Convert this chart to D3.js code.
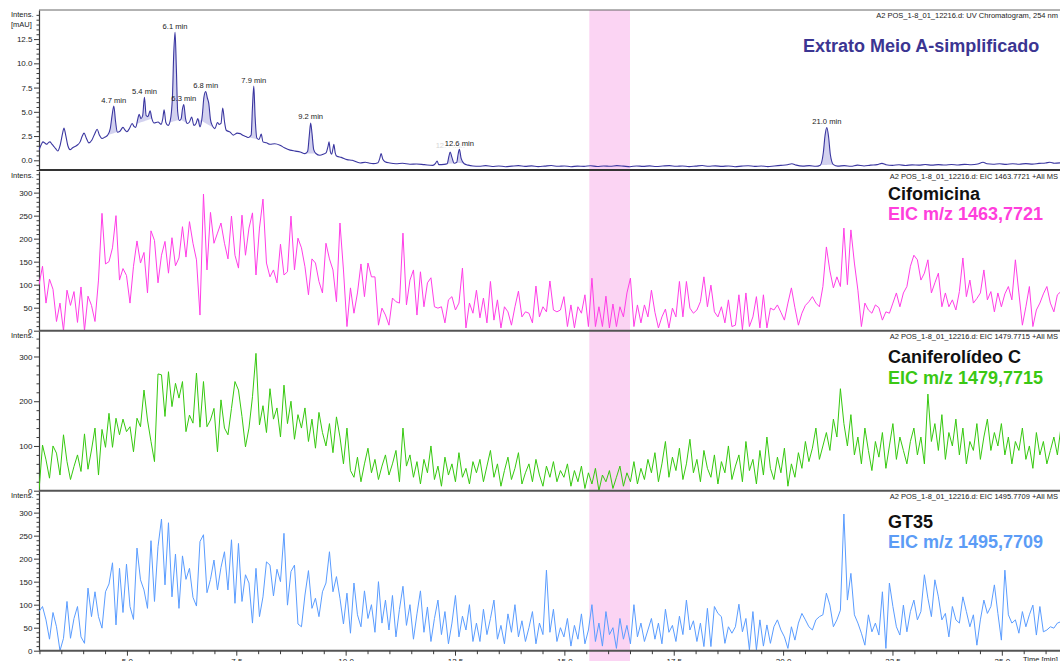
<!DOCTYPE html>
<html>
<head>
<meta charset="utf-8">
<script src="https://cdn.jsdelivr.net/npm/d3@7"></script>
<style>
  body { margin: 0; background: #fff; }
  svg { display: block; }
  text { font-family: "Liberation Sans", Arial, sans-serif; }
</style>
</head>
<body>
<svg id="chart" width="1060" height="661"></svg>
<script>
// ---------------------------------------------------------------
// Run information
// ---------------------------------------------------------------
const runName = "A2 POS_1-8_01_12216.d";
const timeStart = 2.99;          // min, left edge of the time axis
const timeEnd = 26.33;           // min, right edge of the time axis
const highlightWindow = [15.57, 16.5];   // min, shaded retention window

// ---------------------------------------------------------------
// UV chromatogram, 254 nm (time in min, signal in mAU)
// ---------------------------------------------------------------
const uvTime = [
  2.99, 3.04, 3.08, 3.13, 3.17, 3.21, 3.24, 3.28, 3.31, 3.37, 3.42, 3.47, 3.53, 3.56, 3.60, 3.65, 3.70, 3.76, 3.86, 3.93,
  3.98, 4.02, 4.07, 4.13, 4.20, 4.27, 4.32, 4.37, 4.43, 4.50, 4.56, 4.62, 4.66, 4.70, 4.74, 4.78, 4.84, 4.91, 4.96, 5.00,
  5.06, 5.12, 5.16, 5.20, 5.25, 5.28, 5.32, 5.36, 5.40, 5.44, 5.48, 5.53, 5.57, 5.62, 5.71, 5.78, 5.82, 5.85, 5.89, 5.94,
  5.99, 6.04, 6.07, 6.10, 6.13, 6.16, 6.20, 6.24, 6.27, 6.30, 6.34, 6.38, 6.43, 6.48, 6.53, 6.58, 6.62, 6.67, 6.72, 6.76,
  6.80, 6.84, 6.87, 6.91, 6.95, 7.01, 7.07, 7.11, 7.15, 7.19, 7.23, 7.27, 7.36, 7.43, 7.52, 7.59, 7.66, 7.72, 7.78, 7.84,
  7.87, 7.90, 7.93, 7.97, 8.02, 8.07, 8.11, 8.19, 8.27, 8.38, 8.50, 8.60, 8.73, 8.85, 8.96, 9.07, 9.13, 9.17, 9.20, 9.23,
  9.27, 9.32, 9.41, 9.50, 9.55, 9.60, 9.62, 9.65, 9.68, 9.71, 9.73, 9.76, 9.80, 9.90, 10.03, 10.15, 10.33, 10.45, 10.55, 10.63,
  10.74, 10.78, 10.81, 10.85, 10.90, 11.01, 11.15, 11.30, 11.47, 11.62, 11.80, 11.99, 12.05, 12.09, 12.13, 12.25, 12.32, 12.36, 12.39, 12.43,
  12.48, 12.54, 12.57, 12.60, 12.64, 12.71, 12.80, 12.91, 13.05, 13.20, 13.35, 13.50, 13.65, 13.80, 13.95, 14.10, 14.25, 14.40, 14.55, 14.70,
  14.85, 15.00, 15.15, 15.30, 15.45, 15.60, 15.75, 15.90, 16.05, 16.20, 16.35, 16.50, 16.65, 16.80, 16.95, 17.10, 17.25, 17.40, 17.55, 17.70,
  17.85, 18.00, 18.15, 18.30, 18.45, 18.60, 18.75, 18.90, 19.05, 19.20, 19.35, 19.50, 19.65, 19.80, 19.95, 20.10, 20.20, 20.30, 20.45, 20.60,
  20.75, 20.85, 20.92, 20.96, 21.00, 21.04, 21.08, 21.15, 21.25, 21.40, 21.55, 21.70, 21.85, 22.00, 22.15, 22.26, 22.35, 22.50, 22.65, 22.80,
  22.95, 23.10, 23.25, 23.40, 23.55, 23.70, 23.85, 24.00, 24.15, 24.30, 24.45, 24.57, 24.66, 24.80, 24.95, 25.10, 25.25, 25.40, 25.55, 25.70,
  25.85, 26.00, 26.10, 26.20, 26.33
];
const uvSignal = [
  1.05, 1.6, 1.9, 1.75, 1.65, 1.85, 1.9, 1.7, 1.55, 1.2, 0.96, 1.5, 2.8, 3.33, 2.6, 1.5, 1.1, 1.3, 1.55, 1.9,
  2.5, 2.8, 2.3, 1.8, 2.1, 2.8, 3.2, 2.6, 2.25, 2.4, 2.6, 3.3, 4.6, 5.6, 4.0, 2.9, 3.0, 3.4, 3.1, 2.95,
  3.3, 3.8, 3.5, 3.4, 4.3, 4.75, 4.3, 4.6, 6.5, 4.6, 4.5, 5.1, 4.3, 3.85, 3.95, 3.7, 4.3, 5.2, 3.9, 3.6,
  4.1, 6.5, 11.0, 13.2, 9.5, 5.0, 4.1, 4.3, 5.3, 5.75, 4.3, 3.8, 3.95, 4.45, 3.6, 3.8, 4.3, 3.45, 4.5, 6.5,
  7.1, 6.4, 5.9, 4.2, 3.6, 3.27, 3.9, 3.7, 3.8, 5.4, 4.0, 3.1, 2.9, 2.6, 2.8, 2.75, 2.55, 2.45, 2.35, 2.6,
  5.5, 7.65, 4.5, 2.3, 2.15, 2.7, 1.9, 1.8, 1.65, 1.7, 1.55, 1.3, 1.05, 0.95, 0.86, 0.69, 0.9, 2.6, 3.85, 2.8,
  1.1, 0.7, 0.52, 0.65, 0.76, 1.5, 1.9, 0.9, 0.62, 1.2, 1.65, 0.8, 0.41, 0.3, 0.07, 0.0, -0.28, -0.2, -0.3, -0.34,
  -0.25, 0.2, 0.69, 0.1, -0.15, -0.28, -0.35, -0.3, -0.4, -0.38, -0.45, -0.52, -0.35, -0.07, -0.45, -0.42, -0.35, 0.4, 0.86, 0.3,
  -0.3, -0.2, 0.6, 1.14, 0.2, -0.35, -0.5, -0.59, -0.62, -0.55, -0.64, -0.58, -0.66, -0.6, -0.55, -0.63, -0.57, -0.65, -0.6, -0.54,
  -0.62, -0.58, -0.66, -0.6, -0.63, -0.56, -0.64, -0.58, -0.62, -0.55, -0.6, -0.66, -0.58, -0.63, -0.57, -0.64, -0.59, -0.55, -0.62, -0.58,
  -0.65, -0.6, -0.54, -0.62, -0.57, -0.63, -0.58, -0.66, -0.6, -0.56, -0.63, -0.59, -0.65, -0.58, -0.52, -0.45, -0.35, -0.5, -0.6, -0.55,
  -0.62, -0.5, 0.8, 2.6, 3.37, 2.4, 0.6, -0.45, -0.6, -0.55, -0.62, -0.5, -0.58, -0.5, -0.45, -0.32, -0.45, -0.52, -0.46, -0.53,
  -0.47, -0.5, -0.44, -0.5, -0.45, -0.49, -0.43, -0.48, -0.42, -0.46, -0.38, -0.2, -0.35, -0.4, -0.36, -0.42, -0.35, -0.4, -0.34, -0.39,
  -0.32, -0.28, -0.2, -0.3, -0.27
];

// Integrated UV peaks: apex time, integration limits (min) and label
const uvPeaks = [
  { label: "4.7 min",  apex: 4.70,  from: 4.56,  to: 4.84 },
  { label: "5.4 min",  apex: 5.40,  from: 5.22,  to: 5.57 },
  { label: "6.1 min",  apex: 6.10,  from: 5.97,  to: 6.22 },
  { label: "6.3 min",  apex: 6.30,  from: 6.22,  to: 6.38 },
  { label: "6.8 min",  apex: 6.80,  from: 6.62,  to: 7.01 },
  { label: "7.9 min",  apex: 7.90,  from: 7.78,  to: 8.02 },
  { label: "9.2 min",  apex: 9.20,  from: 9.07,  to: 9.32 },
  { label: "12.4 min", apex: 12.39, from: 12.30, to: 12.48, faded: true },
  { label: "12.6 min", apex: 12.60, from: 12.52, to: 12.71, halo: true },
  { label: "21.0 min", apex: 21.00, from: 20.85, to: 21.15 }
];

// ---------------------------------------------------------------
// Extracted ion chromatograms (intensity per scan)
// ---------------------------------------------------------------
const scanStart = 2.99;      // min, first scan
const scanInterval = 0.08;   // min between scans

// EIC m/z 1463.7721 (Cifomicina)
const eicCifomicina = [
  100, 140, 60, 112, 90, 20, 60, 0, 88, 55, 85, 18, 95, 0, 75, 55, 20, 110, 255, 145, 150, 180, 250, 110, 135,
  120, 60, 140, 195, 147, 170, 82, 217, 196, 104, 164, 194, 125, 202, 141, 158, 226, 160, 237, 190, 154, 34, 297, 132, 257,
  190, 212, 234, 190, 156, 249, 164, 136, 251, 164, 223, 256, 121, 223, 286, 147, 117, 132, 104, 188, 121, 128, 249, 132, 201,
  180, 139, 78, 156, 147, 107, 82, 190, 156, 132, 63, 234, 132, 9, 93, 38, 82, 145, 74, 147, 117, 117, 12, 49, 34,
  12, 71, 63, 60, 212, 56, 110, 132, 34, 128, 52, 104, 115, 52, 49, 52, 17, 67, 74, 45, 60, 136, 6, 60, 38,
  88, 28, 71, 17, 107, 23, 67, 6, 52, 41, 12, 52, 86, 30, 41, 38, 17, 97, 30, 52, 41, 108, 45, 41, 45,
  74, 9, 56, 6, 52, 38, 78, 9, 114, 9, 52, 9, 75, 6, 58, 9, 52, 30, 82, 114, 9, 56, 17, 56, 30,
  88, 40, 6, 30, 47, 6, 49, 30, 107, 30, 107, 49, 38, 45, 63, 117, 52, 99, 41, 30, 52, 17, 67, 9, 12,
  78, 2, 82, 9, 30, 74, 6, 78, 6, 49, 45, 56, 40, 23, 60, 93, 50, 12, 38, 55, 63, 74, 60, 52, 96,
  182, 130, 93, 117, 96, 223, 100, 219, 147, 88, 9, 60, 45, 38, 56, 50, 23, 41, 38, 60, 82, 52, 82, 96, 140,
  164, 154, 110, 125, 154, 82, 104, 125, 52, 82, 52, 67, 45, 85, 158, 74, 110, 60, 70, 82, 132, 67, 85, 41, 82,
  52, 80, 96, 67, 154, 82, 12, 52, 96, 9, 45, 60, 80, 96, 60, 41, 78, 85
];

// EIC m/z 1479.7715 (Caniferolídeo C)
const eicCaniferolideo = [
  0, 102, 69, 28, 100, 84, 35, 125, 65, 25, 54, 80, 43, 127, 48, 91, 140, 35, 137, 97, 173, 97, 162, 125, 160,
  132, 143, 87, 162, 143, 225, 158, 110, 65, 261, 259, 166, 266, 188, 240, 207, 244, 132, 169, 151, 263, 142, 244, 143, 158,
  184, 87, 203, 140, 125, 184, 244, 225, 166, 98, 140, 210, 307, 147, 190, 130, 228, 160, 185, 120, 236, 150, 200, 115, 170,
  140, 185, 110, 160, 95, 175, 130, 100, 150, 85, 165, 120, 60, 140, 45, 30, 75, 20, 60, 95, 40, 70, 25, 55, 80,
  35, 60, 90, 20, 140, 55, 80, 30, 65, 15, 70, 40, 100, 25, 55, 10, 75, 35, 60, 20, 85, 30, 50, 15, 65,
  40, 70, 20, 55, 90, 30, 60, 10, 45, 75, 25, 50, 85, 15, 40, 60, 20, 70, 35, 10, 55, 30, 65, 20, 45,
  30, 60, 10, 45, 20, 55, 5, 40, 15, 50, 0, 35, 20, 45, 5, 30, 55, 10, 40, 20, 65, 15, 50, 25, 70,
  40, 85, 20, 60, 110, 30, 75, 45, 95, 25, 60, 115, 40, 70, 20, 90, 50, 30, 80, 15, 65, 40, 100, 25, 55,
  80, 20, 110, 45, 70, 15, 90, 35, 120, 50, 25, 75, 40, 95, 10, 60, 30, 85, 50, 110, 65, 95, 140, 70, 100,
  130, 90, 160, 120, 228, 150, 100, 170, 80, 120, 60, 140, 90, 45, 110, 75, 130, 50, 100, 150, 70, 120, 90, 60, 110,
  140, 80, 120, 60, 216, 110, 150, 90, 170, 70, 130, 100, 160, 80, 140, 60, 110, 90, 150, 70, 120, 160, 90, 130, 100,
  150, 80, 120, 60, 110, 90, 140, 70, 100, 50, 130, 80, 110, 60, 90, 120, 80, 140
];

// EIC m/z 1495.7709 (GT35)
const eicGT35 = [
  85, 96, 67, 25, 83, 52, 0, 27, 107, 27, 70, 96, 30, 16, 136, 74, 128, 74, 49, 128, 145, 191, 56, 179, 83,
  188, 96, 68, 223, 154, 132, 92, 239, 107, 226, 286, 143, 278, 117, 210, 92, 206, 155, 179, 116, 97, 237, 252, 126, 155,
  197, 132, 181, 215, 132, 241, 103, 233, 107, 165, 147, 60, 179, 74, 117, 193, 186, 119, 177, 150, 255, 99, 172, 186, 58,
  52, 121, 174, 92, 114, 74, 128, 147, 215, 128, 161, 114, 58, 125, 38, 147, 78, 52, 130, 70, 100, 40, 150, 60, 110,
  45, 120, 30, 90, 140, 55, 100, 25, 80, 130, 40, 95, 20, 70, 110, 35, 85, 15, 60, 120, 30, 75, 45, 100, 20,
  60, 20, 90, 35, 70, 110, 25, 55, 15, 80, 40, 100, 30, 65, 20, 50, 85, 15, 60, 35, 175, 40, 90, 20, 50,
  30, 70, 10, 55, 25, 80, 15, 45, 100, 20, 60, 10, 85, 35, 50, 5, 70, 25, 55, 15, 100, 30, 60, 20, 45,
  70, 25, 60, 15, 90, 40, 55, 20, 75, 35, 110, 45, 65, 20, 60, 9, 92, 9, 96, 81, 74, 16, 52, 38, 52,
  101, 41, 70, 2, 85, 2, 67, 10, 56, 16, 52, 67, 45, 30, 5, 52, 23, 60, 81, 67, 52, 45, 67, 74, 78,
  125, 99, 52, 67, 88, 297, 110, 168, 78, 60, 38, 12, 78, 41, 60, 34, 128, 5, 147, 96, 52, 34, 99, 41, 85,
  110, 67, 85, 165, 114, 74, 154, 117, 67, 81, 30, 96, 67, 60, 117, 85, 52, 78, 12, 67, 110, 81, 96, 143, 81,
  23, 175, 78, 60, 67, 38, 85, 52, 78, 99, 34, 96, 41, 45, 52, 49, 60, 63
];

// Axis tick values
const timeTicks = [5.0, 7.5, 10.0, 12.5, 15.0, 17.5, 20.0, 22.5, 25.0];
const uvTicks = [0.0, 2.5, 5.0, 7.5, 10.0, 12.5];
const eicTicks = [0, 50, 100, 150, 200, 250, 300];
const eicTicksWide = [0, 100, 200, 300];

// ---------------------------------------------------------------
// Drawing
// ---------------------------------------------------------------
const svg = d3.select("#chart");
const W = 1060, H = 661;
const plotLeft = 39, plotRight = 1060;
const axisColor = "#3a3a3a";

const x = d3.scaleLinear().domain([timeStart, timeEnd]).range([plotLeft, plotRight]);

const panels = [
  { top: 10, bottom: 170, domain: [-1.0, 15.5], ticks: uvTicks, minorStep: 0.5, fmt: d3.format(".1f"),
    header: `${runName}: UV Chromatogram, 254 nm`, unit: "[mAU]" },
  { top: 171, bottom: 330.7, domain: [0, 347], ticks: eicTicks, minorStep: 10, fmt: d3.format("d"),
    header: `${runName}: EIC 1463.7721 +All MS`, values: eicCifomicina, color: "#ff3ee6",
    name: "Cifomicina", mz: "EIC m/z 1463,7721", textColor: "#ff3fdc", nameY: 199.5, mzY: 219.5 },
  { top: 331, bottom: 490.7, domain: [0, 357], ticks: eicTicksWide, minorStep: 20, fmt: d3.format("d"),
    header: `${runName}: EIC 1479.7715 +All MS`, values: eicCaniferolideo, color: "#36c80f",
    name: "Caniferolídeo C", mz: "EIC m/z 1479,7715", textColor: "#3ac814", nameY: 363, mzY: 384 },
  { top: 491, bottom: 650.7, domain: [0, 347], ticks: eicTicks, minorStep: 10, fmt: d3.format("d"),
    header: `${runName}: EIC 1495.7709 +All MS`, values: eicGT35, color: "#5a9cff",
    name: "GT35", mz: "EIC m/z 1495,7709", textColor: "#5c9cf6", nameY: 528, mzY: 548 }
];

// Shaded retention window across all traces
svg.append("rect")
  .attr("x", x(highlightWindow[0]))
  .attr("y", 10)
  .attr("width", x(highlightWindow[1]) - x(highlightWindow[0]))
  .attr("height", H - 10)
  .attr("fill", "#fbd4f3");

const defs = svg.append("defs");

panels.forEach((p, k) => {
  const y = d3.scaleLinear().domain(p.domain).range([p.bottom, p.top]);
  p.y = y;

  const clipId = `clip-${k}`;
  defs.append("clipPath").attr("id", clipId)
    .append("rect").attr("x", plotLeft).attr("y", p.top)
    .attr("width", plotRight - plotLeft).attr("height", p.bottom - p.top);

  const g = svg.append("g");

  // minor ticks on the intensity axis
  const minor = d3.range(Math.ceil(p.domain[0] / p.minorStep) * p.minorStep, p.domain[1], p.minorStep)
    .filter(v => !p.ticks.some(t => Math.abs(t - v) < 1e-6));
  g.append("g")
    .attr("transform", `translate(${plotLeft},0)`)
    .call(d3.axisLeft(y).tickValues(minor).tickSize(2.5).tickSizeOuter(0).tickFormat(""))
    .call(a => a.select(".domain").remove())
    .call(a => a.selectAll("line").attr("stroke", axisColor));

  // major ticks with labels
  g.append("g")
    .attr("transform", `translate(${plotLeft},0)`)
    .call(d3.axisLeft(y).tickValues(p.ticks).tickSize(5).tickSizeOuter(0).tickPadding(1.5).tickFormat(p.fmt))
    .call(a => a.select(".domain").attr("stroke", axisColor).attr("stroke-width", 1.2))
    .call(a => a.selectAll("line").attr("stroke", axisColor))
    .call(a => a.selectAll("text").attr("font-size", 8).attr("fill", "#222")
      .attr("font-family", '"Liberation Sans", Arial, sans-serif'));

  // "Intens." caption
  g.append("text").attr("x", 11).attr("y", p.top + 6.5)
    .attr("font-size", 7.5).attr("fill", "#222").text("Intens.");
  if (p.unit) {
    g.append("text").attr("x", 11).attr("y", p.top + 16.5)
      .attr("font-size", 7.5).attr("fill", "#222").text(p.unit);
  }

  // trace header
  g.append("text").attr("x", 1058).attr("y", p.top + 7.5)
    .attr("text-anchor", "end").attr("font-size", 7.5).attr("fill", "#222").text(p.header);

  if (p.values) {
    const line = d3.line()
      .x((v, i) => x(scanStart + i * scanInterval))
      .y(v => y(v));
    g.append("path")
      .attr("clip-path", `url(#${clipId})`)
      .attr("d", line(p.values))
      .attr("fill", "none")
      .attr("stroke", p.color)
      .attr("stroke-width", 1)
      .attr("stroke-linejoin", "round");

    g.append("text").attr("x", 888).attr("y", p.nameY)
      .attr("font-size", 18).attr("font-weight", "bold").attr("fill", "#111").text(p.name);
    g.append("text").attr("x", 888).attr("y", p.mzY)
      .attr("font-size", 18).attr("font-weight", "bold").attr("fill", p.textColor).text(p.mz);
  }

  // panel frame line at the bottom
  svg.append("line")
    .attr("x1", plotLeft).attr("x2", plotRight)
    .attr("y1", p.bottom).attr("y2", p.bottom)
    .attr("stroke", k === 0 ? "#333" : "#555").attr("stroke-width", 2);
});

// top frame line of the first panel
svg.append("line").attr("x1", plotLeft).attr("x2", plotRight)
  .attr("y1", 10).attr("y2", 10).attr("stroke", "#666").attr("stroke-width", 1);

// ---------------------------------------------------------------
// UV trace with integrated peaks
// ---------------------------------------------------------------
const uv = panels[0];
const uvPoints = uvTime.map((t, i) => [t, uvSignal[i]]);
const signalAt = t => {
  const i = d3.bisector(d => d[0]).left(uvPoints, t);
  if (i <= 0) return uvPoints[0][1];
  if (i >= uvPoints.length) return uvPoints[uvPoints.length - 1][1];
  const [t0, v0] = uvPoints[i - 1], [t1, v1] = uvPoints[i];
  return v0 + (v1 - v0) * (t - t0) / (t1 - t0);
};

const uvG = svg.append("g").attr("clip-path", "url(#clip-0)");

uvPeaks.forEach(pk => {
  const b0 = signalAt(pk.from), b1 = signalAt(pk.to);
  const base = t => b0 + (b1 - b0) * (t - pk.from) / (pk.to - pk.from);
  const pts = [[pk.from, b0]]
    .concat(uvPoints.filter(d => d[0] > pk.from && d[0] < pk.to))
    .concat([[pk.to, b1]]);
  uvG.append("path")
    .attr("d", d3.area()
      .x(d => x(d[0]))
      .y0(d => uv.y(base(d[0])))
      .y1(d => uv.y(d[1]))
      .curve(d3.curveMonotoneX)(pts))
    .attr("fill", "#d3d2ef");
});

uvG.append("path")
  .attr("d", d3.line().x(d => x(d[0])).y(d => uv.y(d[1])).curve(d3.curveMonotoneX)(uvPoints))
  .attr("fill", "none")
  .attr("stroke", "#3a36a0")
  .attr("stroke-width", 1.1)
  .attr("stroke-linejoin", "round");

// peak labels
uvPeaks.forEach(pk => {
  const t = svg.append("text")
    .attr("x", x(pk.apex))
    .attr("y", uv.y(signalAt(pk.apex)) - 3.5)
    .attr("text-anchor", "middle")
    .attr("font-size", 7.6)
    .attr("fill", pk.faded ? "#d6d6d6" : "#1a1a1a")
    .text(pk.label);
  if (pk.halo) {
    t.attr("stroke", "#fff").attr("stroke-width", 2.5).attr("paint-order", "stroke");
  }
});

// title of the UV trace
svg.append("text").attr("x", 803).attr("y", 51.5)
  .attr("font-size", 18).attr("font-weight", "bold").attr("fill", "#3b3592")
  .text("Extrato Meio A-simplificado");

// ---------------------------------------------------------------
// Time axis
// ---------------------------------------------------------------
const axisY = panels[3].bottom;
const minorTimes = d3.range(3.0, timeEnd, 0.5).filter(t => !timeTicks.some(m => Math.abs(m - t) < 1e-6));
svg.append("g").attr("transform", `translate(0,${axisY})`)
  .call(d3.axisBottom(x).tickValues(minorTimes).tickSize(3.5).tickSizeOuter(0).tickFormat(""))
  .call(a => a.select(".domain").remove())
  .call(a => a.selectAll("line").attr("stroke", axisColor));
svg.append("g").attr("transform", `translate(0,${axisY})`)
  .call(d3.axisBottom(x).tickValues(timeTicks).tickSize(5).tickSizeOuter(0).tickPadding(3).tickFormat(d3.format(".1f")))
  .call(a => a.select(".domain").remove())
  .call(a => a.selectAll("line").attr("stroke", axisColor))
  .call(a => a.selectAll("text").attr("font-size", 8).attr("fill", "#222")
    .attr("font-family", '"Liberation Sans", Arial, sans-serif'));
svg.append("text").attr("x", 1023).attr("y", 662)
  .attr("font-size", 7.5).attr("fill", "#222").text("Time [min]");
</script>
</body>
</html>
